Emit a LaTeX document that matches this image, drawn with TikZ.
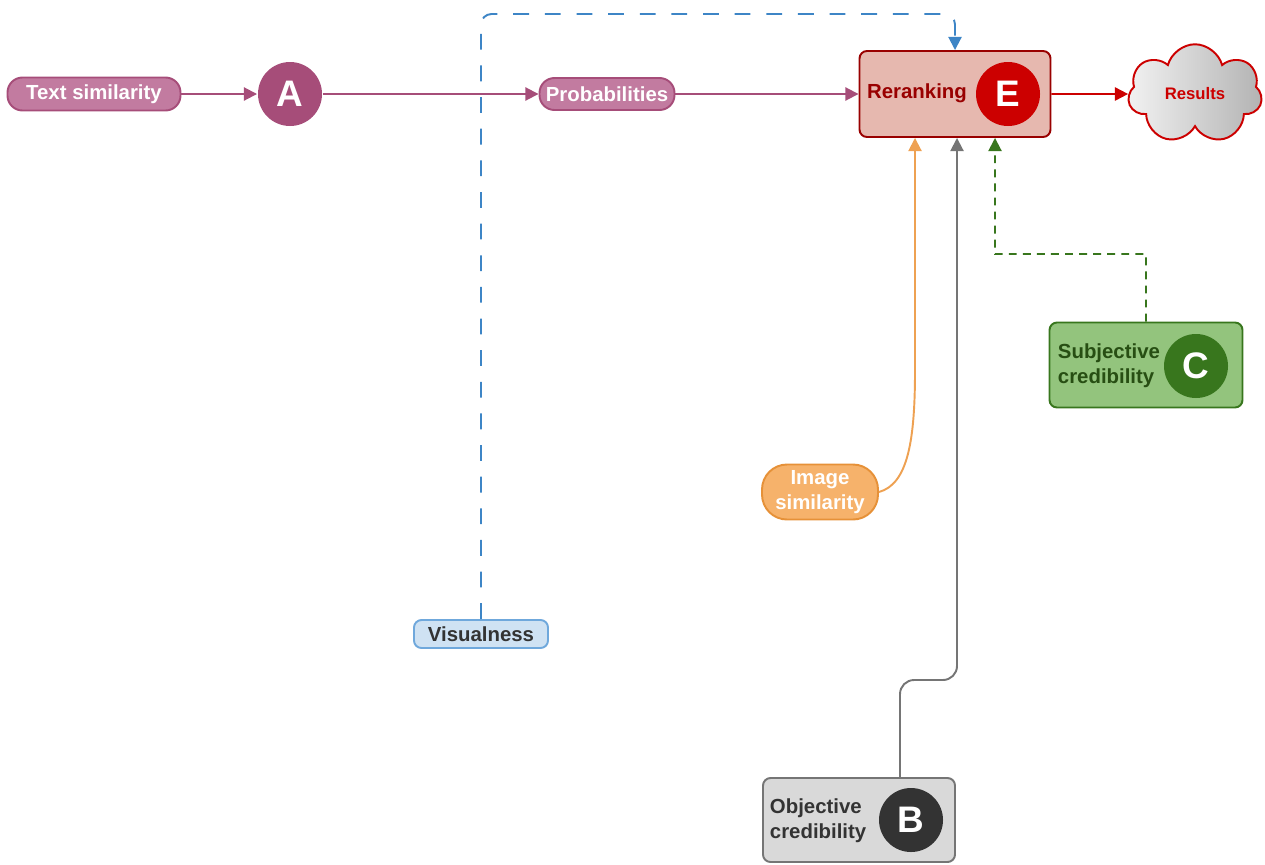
\documentclass[tikz,border=0pt]{standalone}
\usepackage{fontspec}
\setmainfont{Liberation Sans}
\usepackage{color}
\usetikzlibrary{arrows.meta,shapes.symbols}

\definecolor{magD}{HTML}{A64D79}
\definecolor{magL}{HTML}{C27BA0}
\definecolor{redD}{HTML}{990000}
\definecolor{redM}{HTML}{CC0000}
\definecolor{redL}{HTML}{E6B8AF}
\definecolor{grnD}{HTML}{38761D}
\definecolor{grnT}{HTML}{274E13}
\definecolor{grnL}{HTML}{93C47D}
\definecolor{orgD}{HTML}{E69138}
\definecolor{orgL}{HTML}{F6B26B}
\definecolor{bluD}{HTML}{3D85C6}
\definecolor{bluM}{HTML}{6FA8DC}
\definecolor{bluL}{HTML}{CFE2F3}
\definecolor{gryD}{HTML}{333333}
\definecolor{gryM}{HTML}{757575}
\definecolor{gryL}{HTML}{D9D9D9}

\begin{document}
\begin{tikzpicture}[x=.2mm, y=-.2mm, line width=1.1pt,
  pill/.style={draw, rectangle, rounded corners=.3cm, inner sep=0pt, text=white,
    font=\fontsize{11.6}{14}\selectfont\bfseries},
  box/.style={draw, rectangle, rounded corners=.15cm, minimum width=3.84cm, minimum height=1.7cm},
  lbl/.style={font=\fontsize{11.6}{14}\selectfont\bfseries, align=left, inner sep=0pt},
  letter/.style={circle, minimum size=1.28cm, inner sep=0pt, text=white,
    font=\fontsize{21}{24}\selectfont\bfseries},
  arr/.style={-{Triangle[length=7.5pt,width=7.5pt]}}]
 \useasboundingbox (0,0) rectangle (1265,864);

 % top row
 \node (txtsim) [pill, fill=magL, draw=magD, minimum width=3.46cm, minimum height=.66cm] at (94,94) {Text similarity};
 \node (A) [letter, fill=magD] at (290,94) {A};
 \node (prob) [pill, fill=magL, draw=magD, minimum width=2.7cm, minimum height=.64cm] at (607,94) {Probabilities};
 \node (rerank) [box, fill=redL, draw=redD, minimum width=3.82cm, minimum height=1.72cm] at (955,94) {};
 \node (reranktxt) [lbl, text=redD] at (917,93) {Reranking};
 \node (E) [letter, fill=redM] at (1008,94) {E};
 \node (res) [cloud, cloud puffs=7, aspect=1.4, draw=redM, left color=gray!10, right color=gray!60,
   minimum width=2.68cm, minimum height=1.94cm, text=redM,
   font=\fontsize{9.5}{11}\selectfont\bfseries] at (1195,94) {Results};

 % inputs below
 \node (subj) [box, fill=grnL, draw=grnD, minimum width=3.86cm] at (1146,365) {};
 \node (subjtxt) [lbl, text=grnT, anchor=west] at (1057,366) {Subjective\\credibility};
 \node (C) [letter, fill=grnD] at (1196,366) {C};
 \node (imgsim) [pill, fill=orgL, draw=orgD, rounded corners=.5cm, align=center,
   minimum width=2.32cm, minimum height=1.1cm] at (820,492) {Image\\similarity};
 \node (vis) [pill, fill=bluL, draw=bluM, rounded corners=.15cm, text=gryD,
   minimum width=2.68cm, minimum height=.56cm] at (481,634) {Visualness};
 \node (obj) [box, fill=gryL, draw=gryM, minimum height=1.68cm] at (859,820) {};
 \node (objtxt) [lbl, text=gryD, anchor=west] at (769,821) {Objective\\credibility};
 \node (B) [letter, fill=gryD] at (911,820) {B};

 \draw[arr, magD] (txtsim) -- (A);
 \draw[arr, magD] (A) -- (prob);
 \draw[arr, magD] (prob) -- (rerank);
 \draw[arr, redM] (rerank) -- (res);
 \draw[arr, bluD, dash pattern=on 9pt off 9pt, rounded corners=6pt]
   (vis.north) -- (481,14) -- (955,14) -- (rerank.north);
 \draw[arr, orgL!50!orgD] (imgsim.east) .. controls (908,484) and (915,440) .. (915,370)
   -- ([xshift=-.8cm]rerank.south);
 \draw[arr, gryM, rounded corners=8pt] ([xshift=.82cm]obj.north) -- (900,680) -- (957,680)
   -- ([xshift=.04cm]rerank.south);
 \draw[arr, grnD, dash pattern=on 4.5pt off 3.5pt] (subj.north) -- (1146,254) -- (995,254)
   -- ([xshift=.8cm]rerank.south);
\end{tikzpicture}
\end{document}
